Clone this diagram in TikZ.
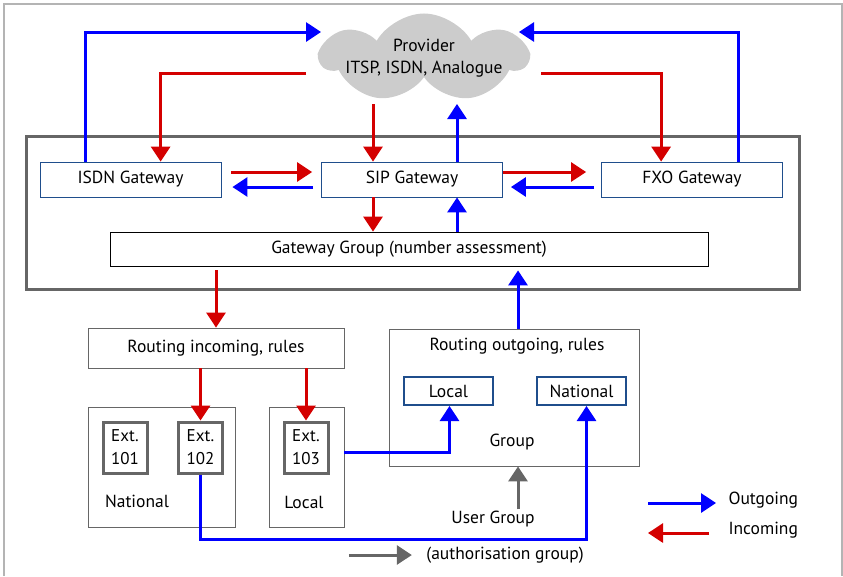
\documentclass[tikz,border=0pt]{standalone}
\usepackage{fontspec}
\setmainfont{PT Sans}
\usetikzlibrary{arrows.meta, shapes.symbols, positioning, math}

\definecolor{outblue}{RGB}{0,0,255}
\definecolor{inred}{RGB}{212,0,0}
\definecolor{darkgray}{RGB}{102,102,102}
\definecolor{boxblue}{RGB}{31,78,140}
\definecolor{cloudgray}{RGB}{204,204,204}
\definecolor{edgegray}{RGB}{180,180,180}

\tikzset{
  gw/.style={draw=boxblue, line width=0.8pt, minimum width=181pt, minimum height=35pt, inner sep=0pt},
  plainbox/.style={draw=darkgray, line width=0.8pt, inner sep=0pt},
  extbox/.style={draw=darkgray, line width=3pt, minimum width=44pt, minimum height=51pt, inner sep=0pt, align=center, font=\fontsize{17}{23}\selectfont},
  dialbox/.style={draw=boxblue, line width=2pt, minimum width=89pt, minimum height=28pt, inner sep=0pt},
  outarrow/.style={outblue, line width=3pt, -{Triangle[length=15pt,width=19pt]}},
  inarrow/.style={inred, line width=3pt, -{Triangle[length=15pt,width=19pt]}},
  grayarrow/.style={darkgray, line width=3pt, -{Triangle[length=15pt,width=19pt]}},
}

\begin{document}
\begin{tikzpicture}[x=1pt, y=-1pt, font=\fontsize{17.5}{20}\selectfont]
  \tikzmath{\gap = 7.5;}
  \useasboundingbox (0,0) rectangle (843,576);
  \draw[edgegray, line width=2pt] (4,576) -- (4,4) -- (842,4) -- (842,576);

  % provider cloud
  \node[cloud, cloud puffs=7, cloud puff arc=120, aspect=2.3, fill=cloudgray, draw=none,
        minimum width=206pt, minimum height=89pt, inner sep=0pt] (provider) at (424,58) {};
  \node[align=center, font=\fontsize{17.5}{22}\selectfont] (providertext) at (provider) {Provider\\ITSP, ISDN, Analogue};
  \coordinate (cloud-in-w) at (321,32);
  \coordinate (cloud-out-w) at (306,73);
  \coordinate (cloud-out-s) at (373,104);
  \coordinate (cloud-in-s) at (457,104);
  \coordinate (cloud-out-e) at (541,73);
  \coordinate (cloud-in-e) at (519,32);

  % gateways
  \node[draw=darkgray, line width=3pt, minimum width=773pt, minimum height=153pt] (pbx) at (412.5,212.5) {};
  \node[gw] (isdn) at (130.5,179.5) {ISDN Gateway};
  \node[gw] (sip) at (412,179.5) {SIP Gateway};
  \node[gw] (fxo) at (692,179.5) {FXO Gateway};
  \node[draw=black, line width=0.8pt, minimum width=598pt, minimum height=34pt, inner sep=0pt] (gwgroup) at (409,249) {Gateway Group (number assessment)};

  \draw[outarrow] ([xshift=46pt]isdn.north west) |- (cloud-in-w);
  \draw[inarrow] (cloud-out-w) -| ([xshift=121pt]isdn.north west);
  \draw[inarrow] (cloud-out-s) -- (cloud-out-s |- sip.north);
  \draw[outarrow] (cloud-in-s |- sip.north) -- (cloud-in-s);
  \draw[inarrow] (cloud-out-e) -| ([xshift=60pt]fxo.north west);
  \draw[outarrow] ([xshift=137pt]fxo.north west) |- (cloud-in-e);

  \draw[inarrow] ([xshift=10pt,yshift=\gap pt]isdn.east) -- ([xshift=-9pt,yshift=\gap pt]sip.west);
  \draw[outarrow] ([xshift=-8pt,yshift=-\gap pt]sip.west) -- ([xshift=11pt,yshift=-\gap pt]isdn.east);
  \draw[inarrow] ([yshift=\gap pt]sip.east) -- ([xshift=-15pt,yshift=\gap pt]fxo.west);
  \draw[outarrow] ([xshift=-7pt,yshift=-\gap pt]fxo.west) -- ([xshift=8pt,yshift=-\gap pt]sip.east);

  \draw[inarrow] (cloud-out-s |- sip.south) -- (cloud-out-s |- gwgroup.north);
  \draw[outarrow] (cloud-in-s |- gwgroup.north) -- (cloud-in-s |- sip.south);

  % incoming routing
  \node[plainbox, minimum width=256pt, minimum height=40pt] (rin) at (216,348) {Routing incoming, rules};
  \node[plainbox, minimum width=147pt, minimum height=120pt] (grpnat) at (161.5,467) {};
  \node[plainbox, minimum width=75pt, minimum height=120pt] (grploc) at (306.5,467) {};
  \node[extbox] (ext101) at (125,447.5) {Ext.\\101};
  \node[extbox] (ext102) at (200.5,447.5) {Ext.\\102};
  \node[extbox] (ext103) at (306,447.5) {Ext.\\103};
  \node (natlabel) at (137,501) {National};
  \node (loclabel) at (304,502) {Local};

  \draw[inarrow] ([yshift=-4pt]rin.north |- gwgroup.south) -- (rin.north);
  \draw[inarrow] (ext102.north |- rin.south) -- (ext102.north);
  \draw[inarrow] (ext103.north |- rin.south) -- (ext103.north);

  % outgoing routing
  \node[plainbox, minimum width=250pt, minimum height=137pt] (rout) at (514,397.5) {};
  \node (routlabel) at (517,346) {Routing outgoing, rules};
  \node[dialbox] (olocal) at (448.5,391) {Local};
  \node[dialbox] (onat) at (581.5,391) {National};
  \node (grouplabel) at (512,442) {Group};
  \node (usergroup) at (493,519) {User Group};

  \draw[outarrow] ([xshift=4pt]rout.north) -- ([xshift=4pt,yshift=-4pt]rout.north |- gwgroup.south);
  \draw[outarrow] ([yshift=15pt]grploc.east) -| ([xshift=1pt]olocal.south);
  \draw[outarrow] (ext102.south) -- ++(0,65) -| ([xshift=5pt]onat.south);
  \draw[grayarrow] ([xshift=4pt,yshift=-2pt]rout.south |- usergroup.north) -- ([xshift=4pt]rout.south);

  % legend
  \node (authlabel) at (505,555) {(authorisation group)};
  \node[anchor=west] (outlabel) at (725,500) {Outgoing};
  \node[anchor=west] (inlabel) at (725,530) {Incoming};
  \draw[grayarrow] ([xshift=-74pt]authlabel.west) -- ([xshift=-11pt]authlabel.west);
  \draw[outarrow] ([xshift=-77pt,yshift=-3pt]outlabel.west) -- ([xshift=-9pt,yshift=-3pt]outlabel.west);
  \draw[inarrow] ([xshift=-16pt,yshift=-3pt]inlabel.west) -- ([xshift=-77pt,yshift=-3pt]inlabel.west);
\end{tikzpicture}
\end{document}
